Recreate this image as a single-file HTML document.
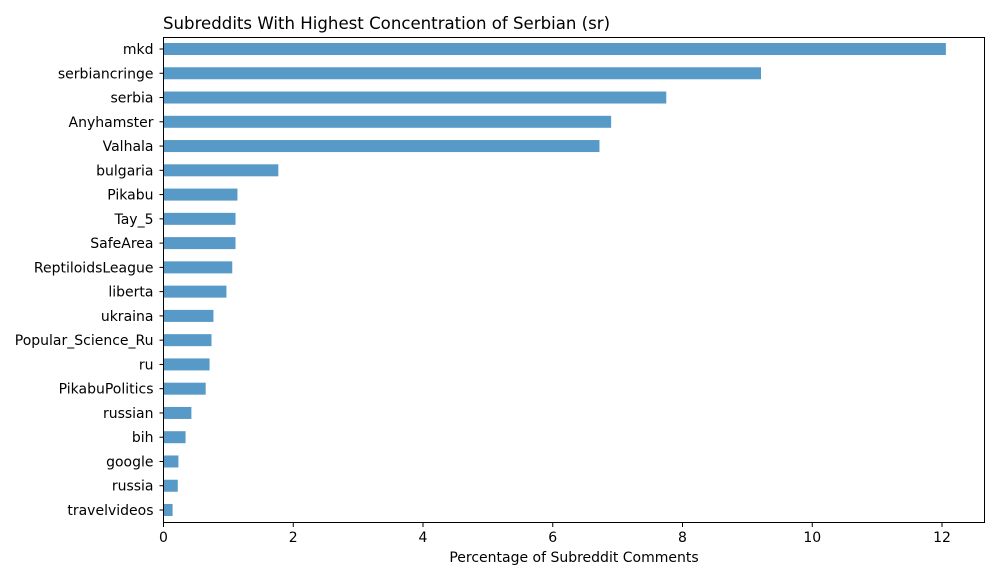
<!DOCTYPE html>
<html><head><meta charset="utf-8"><style>
body{margin:0;background:#fff;font-family:"Liberation Sans","DejaVu Sans",sans-serif;}
svg text{font-family:"DejaVu Sans","Liberation Sans",sans-serif;}
</style></head><body>
<svg id="chart" width="1000" height="580" xmlns="http://www.w3.org/2000/svg">
<rect width="1000" height="580" fill="#fff"/>
<text x="163" y="29" font-size="16.6" fill="#000">Subreddits With Highest Concentration of Serbian (sr)</text>
<g id="bars"></g><g id="yt"></g><g id="xt"></g>
<rect x="163.5" y="37.5" width="821" height="485" fill="none" stroke="#000" stroke-width="1"/>
<text x="574" y="562" font-size="14" text-anchor="middle" fill="#000">Percentage of Subreddit Comments</text>
</svg>
<script>
const categories=["mkd","serbiancringe","serbia","Anyhamster","Valhala","bulgaria","Pikabu","Tay_5","SafeArea","ReptiloidsLeague","liberta","ukraina","Popular_Science_Ru","ru","PikabuPolitics","russian","bih","google","russia","travelvideos"];
const values=[12.06,9.21,7.75,6.90,6.72,1.77,1.14,1.11,1.11,1.06,0.97,0.77,0.74,0.71,0.65,0.43,0.34,0.23,0.22,0.14];
const xTicks=[0,2,4,6,8,10,12];
const NS="http://www.w3.org/2000/svg";
const x0=163.5,pxPer=(942-163.5)/12,yTop=49,step=(510-49)/19,bh=12;
const xs=v=>x0+v*pxPer, ys=i=>yTop+i*step;
const bars=document.getElementById('bars'),yt=document.getElementById('yt'),xt=document.getElementById('xt');
categories.forEach((c,i)=>{
 const r=document.createElementNS(NS,'rect');
 
 
 r.setAttribute('x',x0);r.setAttribute('y',ys(i)-bh/2);
 r.setAttribute('width',xs(values[i])-x0);r.setAttribute('height',bh);
 r.setAttribute('fill','#5799c7');bars.appendChild(r);
 const t=document.createElementNS(NS,'line');
 t.setAttribute('x1',x0-4);t.setAttribute('x2',x0);t.setAttribute('y1',ys(i));t.setAttribute('y2',ys(i));
 t.setAttribute('stroke','#000');yt.appendChild(t);
 const l=document.createElementNS(NS,'text');
 
 
 l.setAttribute('x',x0-10);l.setAttribute('y',ys(i)+5);l.setAttribute('text-anchor','end');
 l.setAttribute('font-size','14');l.textContent=c;yt.appendChild(l);
});
xTicks.forEach(v=>{
 const t=document.createElementNS(NS,'line');
 t.setAttribute('x1',xs(v));t.setAttribute('x2',xs(v));t.setAttribute('y1',522.5);t.setAttribute('y2',527);
 t.setAttribute('stroke','#000');xt.appendChild(t);
 const l=document.createElementNS(NS,'text');
 
 
 l.setAttribute('x',xs(v));l.setAttribute('y',542);l.setAttribute('text-anchor','middle');
 l.setAttribute('font-size','14');l.textContent=v;xt.appendChild(l);
});
</script>
</body></html>
